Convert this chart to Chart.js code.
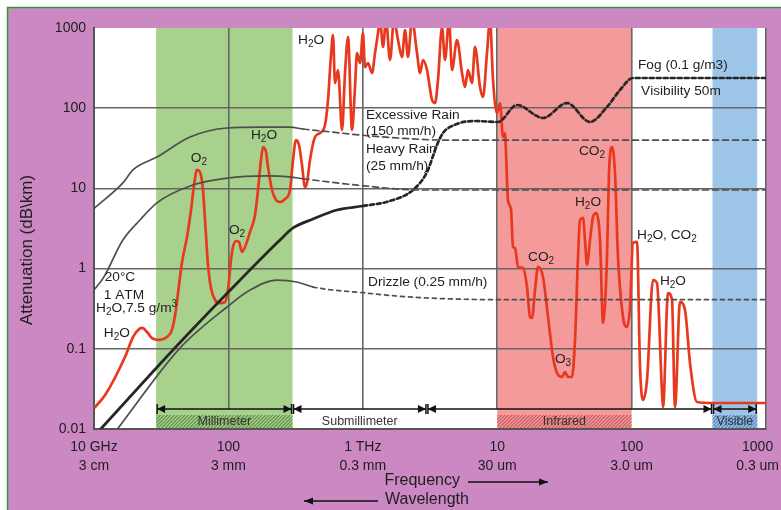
<!DOCTYPE html>
<html><head><meta charset="utf-8">
<script src="https://cdn.jsdelivr.net/npm/chart.js@4.4.0/dist/chart.umd.min.js"></script>
<style>html,body{margin:0;padding:0;background:#fff;overflow:hidden}canvas{display:block}</style>
</head><body>
<canvas id="c" width="781" height="510"></canvas>
<script>
// ---------- DATA ----------
const xTickValues = [10, 100, 1000, 10000, 100000, 1000000];          // GHz
const xTickFreqLabels = ['10 GHz', '100', '1 THz', '10', '100', '1000'];
const xTickWaveLabels = ['3 cm', '3 mm', '0.3 mm', '30 um', '3.0 um', '0.3 um'];
const yTickValues = [0.01, 0.1, 1, 10, 100, 1000];
const yTickLabels = ['0.01', '0.1', '1', '10', '100', '1000'];

// gaseous absorption (20°C, 1 ATM, H2O 7.5 g/m3): [GHz, dB/km]
const absorption = [
 [10.2,0.0188],[12.1,0.0265],[17.0,0.079],[19.5,0.140],[21.3,0.172],[22.8,0.182],[24.8,0.162],[27.0,0.136],
 [31.0,0.129],[34.9,0.140],[38.0,0.172],[40.7,0.305],[42.2,0.496],[45.2,1.21],[49.2,2.48],[52.7,5.38],
 [55.5,11.0],[58.4,17.0],[61.5,16.0],[64.7,9.55],[67.0,4.04],[70.5,1.11],[74.2,0.573],[79.5,0.406],
 [86.6,0.372],[94.3,0.383],[99.3,0.541],[104.5,1.28],[108.2,1.86],[113.9,2.21],[120,2.15],[126.2,1.61],
 [132.9,1.86],[144.8,2.86],[157.8,4.66],[166.1,9.55],[174.8,22.6],[180.9,32.8],[190.5,28.4],[197.1,18.5],
 [211.1,9.55],[226.1,7.17],[242.1,6.77],[263.8,7.38],[287.3,9.55],[302.5,22.6],[318.4,40.1],[335.2,34.8],
 [352.8,19.6],[371.4,10.4],[384.4,11.7],[404.7,22.6],[440.9,43.7],[480.4,49.1],[523.4,61.7],[551,127],
 [580,461],[600.2,818],[621.2,206],[653.9,299],[700.5,53.5],[737.4,275],[776.3,772],[831.3,53.5],
 [875,184],[905.4,488],[953.2,366],[1003,866],[1038,326],[1093,366],[1171,275],[1233,488],
 [1298,866],[1343,1258],[1414,580],[1488,1258],[1594,399],[1707,1258],[1828,709],[1958,435],
 [2061,944],[2169,435],[2323,1258],[2531,488],[2665,275],[2805,399],[3005,299],[3273,127],
 [3445,116],[3627,225],[3885,1029],[4089,399],[4380,1258],[4610,299],[5023,709],[5472,275],
 [5760,184],[6063,299],[6494,206],[6836,580],[7447,184],[7839,138],[8398,488],[8841,1258],
 [9307,225],[9966,87.1],[10490,116],[11050,43.7],[11430,49.1],[11630,27.6],[12030,7.17],[12670,5.5],
 [13110,1.86],[13570,1.81],[14280,1.05],[15560,1.02],[16670,0.59],[17540,0.249],[18150,0.242],[19110,0.541],
 [20120,1.05],[21920,0.786],[23880,0.249],[26020,0.079],[27860,0.0499],[30350,0.0445],[31950,0.0514],[33640,0.0445],
 [36030,0.0445],[37920,0.129],[39930,1.39],[41320,4.04],[43490,4.28],[45010,2.27],[46580,1.11],[49050,2.27],
 [51630,4.40],[54350,4.93],[58220,2.27],[61290,0.210],[65620,1.39],[67900,15.6],[71480,32.8],[75230,15.6],
 [79200,1.39],[86300,0.249],[92410,0.187],[97300,0.332],[102400,2.09],[109700,2.15],[115500,0.0593],[121600,0.0230],
 [130200,0.0408],[144300,0.721],[154500,0.661],[168400,0.0281],[171300,0.0188],[186600,0.496],[199800,0.406],[210300,0.0188],
 [229200,0.383],[249700,0.305],[272000,0.0665],[306600,0.0217],[403400,0.0211],[1000000,0.0211]
];
const excessiveRain = [[10,5.6],[16.4,11.7],[19.5,17.0],[29.4,24.6],[51.8,43.7],[97.7,56.6],[175,58],[287,58],
 [359,55],[580,50.5],[953,46.3],[1828,42.5],[3953,40.1],[1000000,40.1]];
const heavyRain = [[10,0.54],[11.7,0.76],[16.4,2.27],[22,4.04],[29.4,6.6],[51.8,10.7],[97.7,13.4],[194,14.3],
 [287,13.9],[359,13.2],[906,11.0],[2667,9.55],[1000000,9.55]];
const drizzle = [[14.8,0.0098],[43.6,0.102],[97.7,0.332],[145,0.54],[230,0.72],[324,0.68],[426,0.59],[1002,0.50],
 [2361,0.44],[10500,0.41],[1000000,0.41]];
const fog = [[11.1,0.0098],[38.7,0.0966],[100,0.51],[242,2.27],[303,3.21],[426,4.15],[642,5.38],[1002,6.03],
 [1592,6.97],[2361,9.55],[3006,16.0],[3566,34.8],[3953,49.1],[5024,63.6],[6839,69.2],[10140,67.3],
 [14030,109.6],[21920,75.5],[33050,116],[48980,67.3],[65600,103.5],[81970,168.6],[102300,238],[1000000,238]];

// spectral bands (GHz)
const bandNames = ['Millimeter', 'Infrared', 'Visible'];
const bandStart = [29, 10000, 400000];
const bandEnd = [300, 100000, 860000];
// wavelength ranges shown with arrows (GHz)
const rangeNames = ['Millimeter', 'Submillimeter', '', 'Visible'];
const rangeStart = [29, 300, 3000, 400000];
const rangeEnd = [300, 3000, 400000, 860000];

// ---------- STYLE ----------
const FONT = '"Liberation Sans", Arial, Helvetica, sans-serif';
const STYLE = {
  frame: '#CB88C3', frameEdge: '#2F9A36',
  bandFill: ['#A9D18E', '#F59A9B', '#9DC5E8'],
  bandHatch: ['#5F8C47', '#C45A5D', '#4F83B8'],
  red: '#E8391F', gray: '#4E4E4E', fogColor: '#262626', grid: '#666666', text: '#1E1E1E'
};

// annotations: [text, GHz, dB/km, align]
const annotations = [
  ['H_2O', 412, 709, 'center'], ['O_2', 60.4, 23.9, 'center'], ['H_2O', 184, 46.3, 'center'], ['O_2', 116, 3.03, 'center'],
  ['20°C', 15.6, 0.785, 'center'], ['1 ATM', 16.7, 0.469, 'center'], ['H_2O,7.5 g/m^3', 10.35, 0.323, 'left'],
  ['H_2O', 14.8, 0.157, 'center'],
  ['Excessive Rain', 1056, 82.2, 'left'], ['(150 mm/h)', 1056, 52.0, 'left'], ['Heavy Rain', 1056, 31.0, 'left'],
  ['(25 mm/h)', 1056, 19.0, 'left'], ['Drizzle (0.25 mm/h)', 1093, 0.68, 'left'],
  ['Fog (0.1 g/m3)', 111600, 345, 'left'], ['Visibility 50m', 117500, 164, 'left'],
  ['CO_2', 50700, 29.3, 'center'], ['H_2O', 47400, 6.77, 'center'], ['H_2O, CO_2', 109700, 2.62, 'left'],
  ['CO_2', 21200, 1.39, 'center'], ['O_3', 30900, 0.0746, 'center'], ['H_2O', 203000, 0.70, 'center']
];

function chemText(ctx, str, x, y, size, align, color) {
  const runs = [];
  for (let i = 0; i < str.length; i++) {
    const c = str[i];
    if ((c === '_' || c === '^') && i + 1 < str.length) { runs.push({ t: str[i + 1], m: c }); i++; }
    else runs.push({ t: c, m: '' });
  }
  const big = size + 'px ' + FONT, small = Math.round(size * 0.72) + 'px ' + FONT;
  let w = 0;
  runs.forEach(r => { ctx.font = r.m ? small : big; r.w = ctx.measureText(r.t).width; w += r.w; });
  let cx = align === 'center' ? x - w / 2 : (align === 'right' ? x - w : x);
  ctx.textAlign = 'left'; ctx.textBaseline = 'middle'; ctx.fillStyle = color || STYLE.text;
  runs.forEach(r => {
    ctx.font = r.m ? small : big;
    const dy = r.m === '_' ? size * 0.32 : (r.m === '^' ? -size * 0.3 : 0);
    ctx.fillText(r.t, cx, y + dy); cx += r.w;
  });
}

const decor = {
  id: 'decor',
  beforeDraw(chart) {
    const { ctx, chartArea: a, scales: { x } } = chart;
    const W = chart.width, H = chart.height;
    ctx.save();
    ctx.fillStyle = '#fff'; ctx.fillRect(0, 0, W, H);
    ctx.fillStyle = STYLE.frame; ctx.fillRect(7, 7, W - 7, H - 7);
    ctx.strokeStyle = STYLE.frameEdge; ctx.lineWidth = 1.5;
    ctx.beginPath(); ctx.moveTo(7.5, H); ctx.lineTo(7.5, 7.5); ctx.lineTo(W, 7.5); ctx.stroke();
    ctx.fillStyle = '#fff'; ctx.fillRect(a.left, a.top, a.width, a.height);
    bandStart.forEach((s, i) => {
      const x0 = x.getPixelForValue(s), x1 = x.getPixelForValue(bandEnd[i]);
      ctx.fillStyle = STYLE.bandFill[i]; ctx.fillRect(x0, a.top, x1 - x0, a.height);
    });
    ctx.restore();
  },
  afterDatasetsDraw(chart) {
    const { ctx, chartArea: a, scales: { x, y } } = chart;
    ctx.save();
    const rowY = a.bottom - 20, hatchTop = a.bottom - 14;
    // strip under the arrows
    const sx0 = x.getPixelForValue(rangeStart[0]), sx1 = x.getPixelForValue(rangeEnd[rangeEnd.length - 1]);
    ctx.fillStyle = '#fff'; ctx.fillRect(sx0, rowY, sx1 - sx0, a.bottom - rowY - 1);
    bandStart.forEach((s, i) => {
      const x0 = x.getPixelForValue(s), x1 = x.getPixelForValue(bandEnd[i]);
      ctx.fillStyle = STYLE.bandFill[i]; ctx.fillRect(x0, rowY, x1 - x0, a.bottom - rowY - 1);
      ctx.save();
      ctx.beginPath(); ctx.rect(x0, hatchTop, x1 - x0, a.bottom - hatchTop - 1); ctx.clip();
      ctx.strokeStyle = STYLE.bandHatch[i]; ctx.lineWidth = 1.1;
      for (let k = x0 - 20; k < x1 + 20; k += 3.5) {
        ctx.beginPath(); ctx.moveTo(k, a.bottom); ctx.lineTo(k + 16, hatchTop - 2); ctx.stroke();
      }
      ctx.restore();
    });
    // arrows
    ctx.strokeStyle = '#111'; ctx.fillStyle = '#111'; ctx.lineWidth = 1.5;
    rangeStart.forEach((s, i) => {
      const x0 = x.getPixelForValue(s) + 1, x1 = x.getPixelForValue(rangeEnd[i]) - 1;
      ctx.beginPath(); ctx.moveTo(x0, rowY); ctx.lineTo(x1, rowY); ctx.stroke();
      ctx.beginPath(); ctx.moveTo(x0, rowY - 5); ctx.lineTo(x0, rowY + 5); ctx.moveTo(x1, rowY - 5); ctx.lineTo(x1, rowY + 5); ctx.stroke();
      ctx.beginPath(); ctx.moveTo(x0, rowY); ctx.lineTo(x0 + 8, rowY - 4); ctx.lineTo(x0 + 8, rowY + 4); ctx.closePath(); ctx.fill();
      ctx.beginPath(); ctx.moveTo(x1, rowY); ctx.lineTo(x1 - 8, rowY - 4); ctx.lineTo(x1 - 8, rowY + 4); ctx.closePath(); ctx.fill();
    });
    // strip labels
    const labelY = a.bottom - 7;
    const stripLabels = [[rangeNames[0], rangeStart[0], rangeEnd[0]], [rangeNames[1], rangeStart[1], rangeEnd[1]],
                         [bandNames[1], bandStart[1], bandEnd[1]], [bandNames[2], bandStart[2], bandEnd[2]]];
    stripLabels.forEach(([t, s, e]) => {
      const cx = (x.getPixelForValue(s) + x.getPixelForValue(e)) / 2;
      chemText(ctx, t, cx, labelY, 12.5, 'center', '#333');
    });
    // annotations
    annotations.forEach(([t, f, v, al]) => {
      chemText(ctx, t, x.getPixelForValue(f), y.getPixelForValue(v), 13.7, al, STYLE.text);
    });
    ctx.restore();
  },
  afterDraw(chart) {
    const { ctx, chartArea: a, scales: { x } } = chart;
    const W = chart.width;
    ctx.save();
    ctx.fillStyle = STYLE.text; ctx.font = '14px ' + FONT; ctx.textBaseline = 'middle'; ctx.textAlign = 'center';
    xTickValues.forEach((v, i) => {
      let px = x.getPixelForValue(v);
      const w = Math.max(ctx.measureText(xTickFreqLabels[i]).width, ctx.measureText(xTickWaveLabels[i]).width);
      if (px + w / 2 > W - 2) px = W - 2 - w / 2;
      ctx.fillText(xTickFreqLabels[i], px, a.bottom + 18);
      ctx.fillText(xTickWaveLabels[i], px, a.bottom + 37);
    });
    // axis titles
    const cx = (a.left + a.right) / 2;
    ctx.font = '16px ' + FONT;
    ctx.textAlign = 'right'; ctx.fillText('Frequency', cx + 30, a.bottom + 52);
    ctx.textAlign = 'left'; ctx.fillText('Wavelength', cx - 45, a.bottom + 71);
    ctx.strokeStyle = '#111'; ctx.fillStyle = '#111'; ctx.lineWidth = 1.5;
    const arrow = (xs, xe, yy) => {
      ctx.beginPath(); ctx.moveTo(xs, yy); ctx.lineTo(xe, yy); ctx.stroke();
      const d = xe > xs ? -1 : 1;
      ctx.beginPath(); ctx.moveTo(xe, yy); ctx.lineTo(xe + d * 9, yy - 3.5); ctx.lineTo(xe + d * 9, yy + 3.5); ctx.closePath(); ctx.fill();
    };
    arrow(cx + 38, cx + 118, a.bottom + 53);
    arrow(cx - 52, cx - 126, a.bottom + 72);
    ctx.save();
    ctx.translate(27, 250); ctx.rotate(-Math.PI / 2);
    ctx.fillStyle = STYLE.text; ctx.font = '17px ' + FONT; ctx.textAlign = 'center'; ctx.textBaseline = 'middle';
    ctx.fillText('Attenuation (dB\\km)', 0, 0);
    ctx.restore();
    ctx.restore();
  }
};

const toXY = arr => arr.map(([f, v]) => ({ x: f, y: v }));
const dashAfter = (limit, dash, solidAfter) => ctx => {
  const f = ctx.p0.parsed.x;
  if (solidAfter && f >= solidAfter) return [];
  return f >= limit ? dash : [];
};

new Chart(document.getElementById('c'), {
  type: 'line',
  data: {
    datasets: [
      { label: 'Excessive Rain', data: toXY(excessiveRain), borderColor: STYLE.gray, borderWidth: 1.7,
        segment: { borderDash: dashAfter(359, [6, 4], 100000) } },
      { label: 'Heavy Rain', data: toXY(heavyRain), borderColor: STYLE.gray, borderWidth: 1.7,
        segment: { borderDash: dashAfter(359, [6, 4], 100000) } },
      { label: 'Drizzle', data: toXY(drizzle), borderColor: STYLE.gray, borderWidth: 1.7,
        segment: { borderDash: dashAfter(426, [4, 4], 100000) } },
      { label: 'Fog', data: toXY(fog), borderColor: STYLE.fogColor, borderWidth: 2.7,
        segment: { borderDash: dashAfter(1000, [4, 3]) } },
      { label: 'Absorption', data: toXY(absorption), borderColor: STYLE.red, borderWidth: 2.7 }
    ]
  },
  options: {
    responsive: false, animation: false, events: [],
    devicePixelRatio: 1,
    layout: { padding: { top: 28, right: 15, left: 0, bottom: 0 } },
    elements: { point: { radius: 0 }, line: { cubicInterpolationMode: 'monotone', fill: false, borderCapStyle: 'round', borderJoinStyle: 'round' } },
    datasets: { line: { clip: 0 } },
    plugins: { legend: { display: false }, tooltip: { enabled: false } },
    scales: {
      x: {
        type: 'logarithmic', min: 10, max: 1000000,
        afterBuildTicks: s => { s.ticks = xTickValues.map(v => ({ value: v })); },
        afterFit: s => { s.height = 81; },
        ticks: { display: false },
        grid: { color: STYLE.grid, lineWidth: 1.6, drawTicks: false },
        border: { display: true, color: '#555', width: 2 }
      },
      y: {
        type: 'logarithmic', min: 0.01, max: 1000,
        afterBuildTicks: s => { s.ticks = yTickValues.map(v => ({ value: v })); },
        afterFit: s => { s.width = 94; },
        ticks: { callback: v => { const i = yTickValues.indexOf(v); return i >= 0 ? yTickLabels[i] : ''; },
                 font: { family: FONT, size: 14 }, color: STYLE.text, padding: 8, autoSkip: false },
        grid: { color: c => (c.tick && c.tick.value === 1000) ? 'rgba(0,0,0,0)' : STYLE.grid, lineWidth: 1.6, drawTicks: false },
        border: { display: true, color: '#555', width: 2 }
      }
    }
  },
  plugins: [decor]
});
</script>
</body></html>
